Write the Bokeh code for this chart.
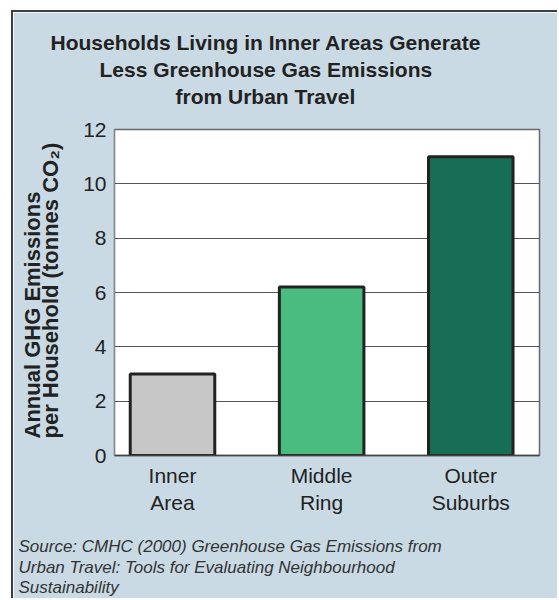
from bokeh.plotting import figure
from bokeh.models import Range1d, FixedTicker, Title
from bokeh.embed import file_html
from bokeh.resources import INLINE

# ---- data ----
categories = ["Inner\nArea", "Middle\nRing", "Outer\nSuburbs"]
emissions = [3.0, 6.2, 11.0]
bar_colors = ["#c6c7c6", "#4abc80", "#176e55"]
y_ticks = [0, 2, 4, 6, 8, 10, 12]
title_lines = ["Households Living in Inner Areas Generate",
               "Less Greenhouse Gas Emissions",
               "from Urban Travel"]
ylabel_text = "Annual GHG Emissions\nper Household (tonnes CO\u2082)"
source_text = ("Source: CMHC (2000) Greenhouse Gas Emissions from\n"
               "Urban Travel: Tools for Evaluating Neighbourhood\n"
               "Sustainability")

BG = "#c9dae4"
W, H = 546, 588
ML, MT = 101, 117
FW, FH = 425, 326
MR = W - ML - FW
MB = H - MT - FH

xs = list(range(len(categories)))

p = figure(width=W, height=H, output_backend="svg", toolbar_location=None,
           x_range=Range1d(-0.389, 2.461), y_range=Range1d(0, 12),
           min_border_left=ML, min_border_right=MR, min_border_top=MT,
           min_border_bottom=MB)
p.margin = (10, 0, 0, 11)
p.styles = {"border-left": "2px solid #3f3f3f", "border-top": "2px solid #3f3f3f"}
p.background_fill_color = "white"
p.border_fill_color = BG
p.outline_line_color = "#6a6a6a"
p.outline_line_width = 1.5

p.vbar(x=xs, top=emissions, width=0.567, bottom=0, fill_color=bar_colors,
       line_color="#222222", line_width=3)

p.xgrid.visible = False
p.ygrid.ticker = FixedTicker(ticks=y_ticks)
p.ygrid.grid_line_color = "#555555"
p.ygrid.grid_line_width = 1

p.yaxis.ticker = FixedTicker(ticks=y_ticks)
p.yaxis.major_tick_line_color = None
p.yaxis.minor_tick_line_color = None
p.yaxis.major_tick_out = 0
p.yaxis.major_tick_in = 0
p.yaxis.minor_tick_out = 0
p.yaxis.axis_line_color = "#888888"
p.yaxis.major_label_standoff = 8
p.yaxis.major_label_text_font = "Liberation Sans"
p.yaxis.major_label_text_font_size = "21px"
p.yaxis.major_label_text_color = "#222222"
p.yaxis.axis_label = " "
p.yaxis.axis_label_text_font_size = "1px"
p.yaxis.axis_label_standoff = 14

p.xaxis.ticker = FixedTicker(ticks=xs)
p.xaxis.major_label_overrides = {i: c for i, c in zip(xs, categories)}
p.xaxis.major_tick_line_color = None
p.xaxis.minor_tick_line_color = None
p.xaxis.major_tick_out = 0
p.xaxis.major_tick_in = 0
p.xaxis.minor_tick_out = 0
p.xaxis.axis_line_color = "#444444"
p.xaxis.axis_line_width = 1.5
p.xaxis.major_label_standoff = 8
p.xaxis.major_label_text_font = "Liberation Sans"
p.xaxis.major_label_text_font_size = "21px"
p.xaxis.major_label_text_color = "#222222"

# ---- title: spacer + three centred lines (nearest the plot first) ----
p.add_layout(Title(text=" ", text_font_size="1px", standoff=18), "above")
title_offsets = [-64, -15, 61]
for t, off in reversed(list(zip(title_lines, title_offsets))):
    p.add_layout(Title(text=t, align="left", offset=off, standoff=2,
                       text_font="Liberation Sans", text_font_style="bold",
                       text_font_size="21px", text_color="#222222"), "above")

# ---- y axis title ----
p.add_layout(Title(text=ylabel_text, align="left", offset=17, standoff=0,
                   text_font="Liberation Sans", text_font_style="bold",
                   text_font_size="22px", text_line_height=0.72,
                   text_color="#222222"), "left")

# ---- source ----
p.add_layout(Title(text=" ", text_font_size="1px", standoff=15), "below")
p.add_layout(Title(text=source_text, align="left", offset=-96, standoff=0,
                   text_font="Liberation Sans", text_font_style="italic",
                   text_font_size="17px", text_line_height=1.08,
                   text_color="#333333"), "below")

open("out.html", "w").write(file_html(p, INLINE))
